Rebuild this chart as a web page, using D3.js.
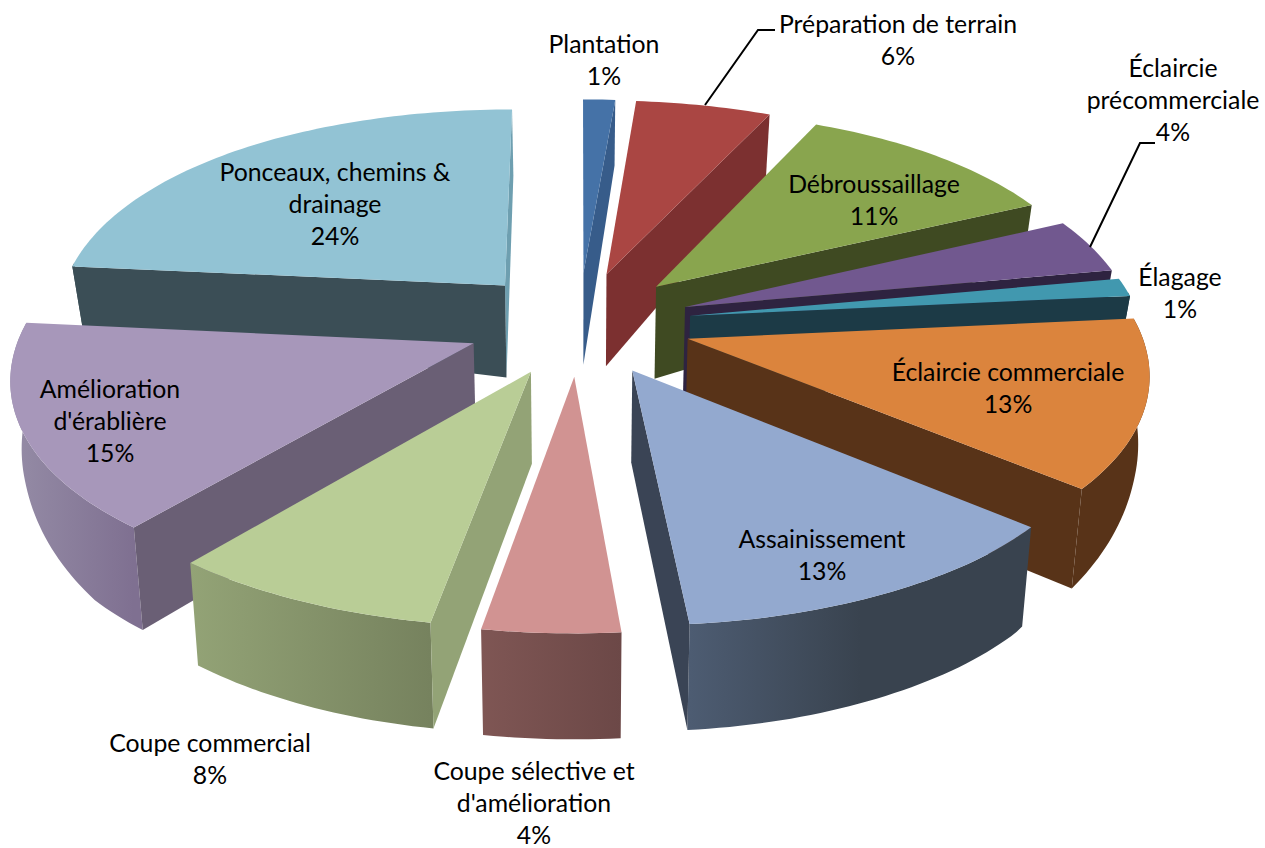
<!DOCTYPE html>
<html>
<head>
<meta charset="utf-8">
<script src="https://cdn.jsdelivr.net/npm/d3@7"></script>
<style>
  body { margin: 0; background: #fff; }
  text { font-family: Lato, "Open Sans", sans-serif; font-size: 24.8px; fill: #000; text-anchor: middle; }
</style>
</head>
<body>
<script>
// values
const categories = ['Plantation', 'Préparation de terrain', 'Débroussaillage', 'Éclaircie précommerciale', 'Élagage',
    'Éclaircie commerciale', 'Assainissement', 'Coupe sélective et amélioration', 'Coupe commercial',
    "Amélioration d'érablière", 'Ponceaux, chemins & drainage'];
const shares = [1.3, 5.5, 11.1, 4.2, 1.4, 12.8, 12.4, 4.1, 8.2, 15.7, 23.5];
// percent as printed on the labels
const printedPct = [1, 6, 11, 4, 1, 13, 13, 4, 8, 15, 24];
const labelLines = [['Plantation'], ['Préparation de terrain'], ['Débroussaillage'], ['Éclaircie', 'précommerciale'], ['Élagage'],
    ['Éclaircie commerciale'], ['Assainissement'], ['Coupe sélective et', "d'amélioration"], ['Coupe commercial'],
    ['Amélioration', "d'érablière"], ['Ponceaux, chemins &', 'drainage']];

const topColors = ['#4572a7', '#aa4643', '#89a54e', '#71588f', '#4198af', '#db843d', '#93a9cf', '#d19392', '#b9cd96', '#a797ba', '#92c3d4'];
const wallColors = ['#375c8a', '#7c3030', '#3f4a22', '#2e2340', '#1c3a46', '#583318', '#3a4455', '#7d5452', '#93a376', '#6a5f75', '#3b4e56'];
const rimLeft = ['#375c8a', '#7c3030', '#3f4a22', '#2e2340', '#1c3a46', '#583318', '#4d5c72', '#7f5654', '#93a376', '#958ca6', '#3b4e56'];
const rimRight = ['#375c8a', '#7c3030', '#3f4a22', '#2e2340', '#1c3a46', '#583318', '#39434f', '#6c4847', '#76825e', '#7f7091', '#3b4e56'];
const rimStop = [1, 1, 1, 1, 1, 1, 0.5, 1, 1, 1, 1];
const backSliver = '#6e9fb0';

// first baseline of each label block and leader lines, in page pixels
const labelPos = [[604, 53], [898, 33], [874, 193], [1173, 77], [1180, 286], [1008, 381], [822, 548], [534, 779.5], [210, 752], [110, 398], [335, 181]];
const lineStep = 32;
const leaders = [[[705, 105], [758, 30], [775, 30]], [[1090, 247], [1140, 143], [1155, 143]]];

const width = 1265, height = 848;

// perspective of the pie plane, fitted on the slice corners
const cx = 579, cy = 323, radX = 460, radY = 208, persp = 0.13, explode = 0.25, midSquash = 0.02;
const tipDepth = 92, shrink = 0.98;
const rimDepth = d3.scaleLinear().domain([-1, 0, 0.3, 0.67, 1]).range([66, 60, 73, 101, 106]);

function project(u, v) {
    let w = 1 - persp * v;
    let squash = 1 - midSquash * (1 - Math.min(v * v, 1));
    return [cx + radX * squash * u / w, cy + radY * v / w];
}

// r = 0 at the slice tip, 1 on the rim
function topPoint(d, a, r) {
    let mid = (d.startAngle + d.endAngle) / 2;
    let u = explode * Math.sin(mid) + r * Math.sin(a);
    let v = -explode * Math.cos(mid) - r * Math.cos(a);
    return project(u, v);
}

function lowPoint(d, a, r) {
    let p = topPoint(d, a, r);
    let depth = tipDepth + (rimDepth(-Math.cos(a)) - tipDepth) * r;
    return [cx + (p[0] - cx) * shrink, p[1] + depth];
}

const pie = d3.pie().sort(null).value(d => d);
const slices = pie(shares).map((d, i) => Object.assign(d, { i: i, name: categories[i] }));
const line = d3.line();
const closed = d3.line().curve(d3.curveLinearClosed);

function arcAngles(d) {
    let n = Math.ceil((d.endAngle - d.startAngle) / 0.02);
    return d3.range(n + 1).map(k => d.startAngle + (d.endAngle - d.startAngle) * k / n);
}

// the part of the rim that faces the viewer
function frontAngles(d) {
    return arcAngles(d).filter(a => Math.cos(a) < 0.12);
}

let svg = d3.select('body').append('svg')
    .attr('width', width)
    .attr('height', height)
    .style('display', 'block');

let defs = svg.append('defs');
slices.forEach(d => {
    let xs = arcAngles(d).map(a => topPoint(d, a, 1)[0]);
    let grad = defs.append('linearGradient')
        .attr('id', 'rim' + d.i)
        .attr('gradientUnits', 'userSpaceOnUse')
        .attr('x1', d3.min(xs)).attr('x2', d3.max(xs))
        .attr('y1', 0).attr('y2', 0);
    grad.append('stop').attr('offset', 0).attr('stop-color', rimLeft[d.i]);
    grad.append('stop').attr('offset', rimStop[d.i]).attr('stop-color', rimRight[d.i]);
});

// back slices first
let ordered = slices.slice().sort((a, b) =>
    Math.cos((b.startAngle + b.endAngle) / 2) - Math.cos((a.startAngle + a.endAngle) / 2));

let groups = svg.selectAll('g.slice').data(ordered).join('g').attr('class', 'slice');

groups.filter(d => frontAngles(d).length > 1).append('path')
    .attr('class', 'rim')
    .attr('fill', d => `url(#rim${d.i})`)
    .attr('d', d => {
        let angles = frontAngles(d);
        return closed(angles.map(a => topPoint(d, a, 1)).concat(angles.slice().reverse().map(a => lowPoint(d, a, 1))));
    });

function wall(d, a) {
    return closed([topPoint(d, a, 0), topPoint(d, a, 1), lowPoint(d, a, 1), lowPoint(d, a, 0)]);
}

// the last slice ends on the vertical, its far cut shows as a thin strip
groups.filter(d => d.i === shares.length - 1).append('path')
    .attr('fill', backSliver)
    .attr('d', d => wall(d, d.endAngle));

// only the cut faces turned towards the viewer
groups.filter(d => Math.sin(d.endAngle) > 0).append('path')
    .attr('fill', d => wallColors[d.i])
    .attr('d', d => wall(d, d.endAngle));

groups.filter(d => d.startAngle > Math.PI).append('path')
    .attr('fill', d => wallColors[d.i])
    .attr('d', d => wall(d, d.startAngle));

groups.append('path')
    .attr('class', 'top')
    .attr('fill', d => topColors[d.i])
    .attr('d', d => closed([topPoint(d, d.startAngle, 0)].concat(arcAngles(d).map(a => topPoint(d, a, 1)))));

svg.selectAll('path.leader').data(leaders).join('path')
    .attr('class', 'leader')
    .attr('fill', 'none')
    .attr('stroke', '#000')
    .attr('stroke-width', 2)
    .attr('d', d => line(d));

let labels = svg.selectAll('text.label').data(slices).join('text')
    .attr('class', 'label')
    .attr('y', d => labelPos[d.i][1]);

labels.selectAll('tspan')
    .data(d => labelLines[d.i].concat(printedPct[d.i] + '%').map(t => ({ t: t, x: labelPos[d.i][0] })))
    .join('tspan')
    .attr('x', d => d.x)
    .attr('dy', (d, k) => k ? lineStep : 0)
    .text(d => d.t);
</script>
</body>
</html>
